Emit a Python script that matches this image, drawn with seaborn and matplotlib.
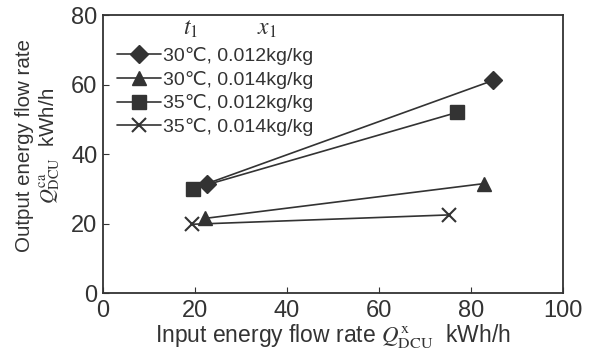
import numpy as np
import pandas as pd
import matplotlib
matplotlib.use("Agg")
import matplotlib.pyplot as plt
import seaborn as sns

sns.set_style("ticks")
plt.rcParams['font.family'] = ['Liberation Sans', 'DejaVu Sans']
plt.rcParams['mathtext.fontset'] = 'stix'

labels = ["30℃, 0.012kg/kg", "30℃, 0.014kg/kg", "35℃, 0.012kg/kg", "35℃, 0.014kg/kg"]
x_in = [[22.6, 84.8], [22.2, 82.8], [19.5, 77.0], [19.3, 75.3]]
y_out = [[31.5, 61.2], [21.5, 31.5], [30.0, 52.0], [19.8, 22.5]]
markers = ["D", "^", "s", "x"]
msizes = [9, 10, 10, 9.5]

dark = "#333333"
fig = plt.figure(figsize=(5.9, 3.51), dpi=100)
ax = fig.add_axes([0.1746, 0.165, 0.7796, 0.792])

# one call per series, seaborn won't mix filled and line markers
for lab, xs, ys, m, ms in zip(labels, x_in, y_out, markers, msizes):
    sns.lineplot(x=xs, y=ys, color=dark, marker=m, markersize=ms, linewidth=1.2,
                 markeredgecolor=dark, markeredgewidth=1.5 if m == "x" else 1.0,
                 label=lab, ax=ax, sort=False)

ax.set_xlim(0, 100)
ax.set_ylim(0, 80)
ax.set_xticks([0, 20, 40, 60, 80, 100])
ax.set_yticks([0, 20, 40, 60, 80])
ax.tick_params(direction="in", length=4, labelsize=17, colors=dark, labelcolor=dark)
ax.tick_params(axis="x", pad=5)
ax.tick_params(axis="y", pad=4)
for s in ax.spines.values():
    s.set_color(dark)
    s.set_linewidth(1.3)

ax.set_xlabel(r"Input energy flow rate $Q_{\rm DCU}^{\rm x}$  kWh/h", fontsize=16.5, color=dark, labelpad=0)
ax.set_ylabel("Output energy flow rate\n" + r"$Q_{\rm DCU}^{\rm ca}$  kWh/h", fontsize=14.8, color=dark,
              linespacing=1.2)
ax.yaxis.set_label_coords(-0.09, 0.53)

leg = ax.legend(loc="upper left", bbox_to_anchor=(0.0, 0.935), frameon=False, fontsize=14,
                handlelength=2.3, handletextpad=0.1, labelspacing=0.3, borderaxespad=0.3)
for t in leg.get_texts():
    t.set_color(dark)

ax.text(0.19, 0.95, r"$t_1$", transform=ax.transAxes, fontsize=17, color=dark, ha="center", va="center")
ax.text(0.357, 0.95, r"$x_1$", transform=ax.transAxes, fontsize=17, color=dark, ha="center", va="center")

plt.savefig("out.png", dpi=100)
